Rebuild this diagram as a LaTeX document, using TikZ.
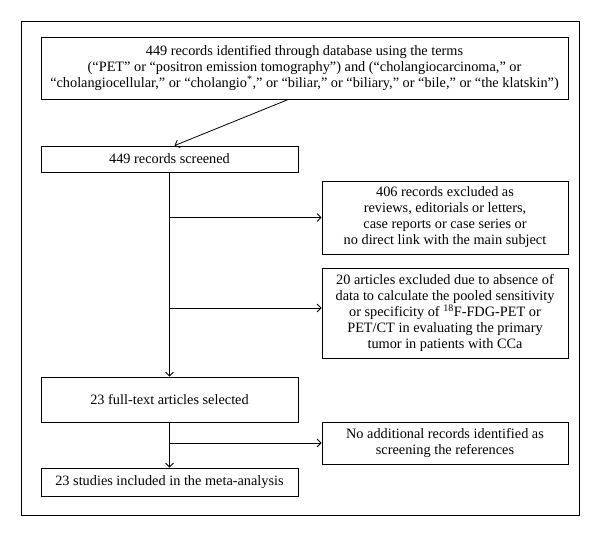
\documentclass[tikz,border=0pt]{standalone}
\usepackage{fontspec}
\setmainfont{Liberation Serif}
\usetikzlibrary{arrows.meta}
\tikzset{
	box/.style={draw, line width=0.8pt, align=center, inner sep=0pt,
		font=\fontsize{14.3}{16}\selectfont},
	freccia/.style={-{Straight Barb[length=4pt,width=8pt]}, line width=0.8pt}
}
\begin{document}
\begin{tikzpicture}[x=1pt, y=-1pt]
	\useasboundingbox (0,0) rectangle (600,536);
	%cornice
	\draw[line width=1pt] (21,21) rectangle (579,515);

	%blocchi a sinistra
	\node[box, minimum width=527pt, minimum height=62pt] (records) at (304.5,68)
		{449 records identified through database using the terms\\
		(“PET” or “positron emission tomography”) and (“cholangiocarcinoma,” or\\
		“cholangiocellular,” or “cholangio\textsuperscript{*},” or “biliar,” or “biliary,” or “bile,” or “the klatskin”)};
	\node[box, minimum width=257pt, minimum height=26pt] (screened) at (169.5,159)
		{449 records screened};
	\node[box, minimum width=257pt, minimum height=45pt] (fulltext) at (169.5,399.5)
		{23 full-text articles selected};
	\node[box, minimum width=257pt, minimum height=28pt] (studi) at (169.5,482)
		{23 studies included in the meta-analysis};

	%blocchi a destra
	\node[box, minimum width=246pt, minimum height=73pt] (esclusi) at (445,217.5)
		{406 records excluded as\\ reviews, editorials or letters,\\
		case reports or case series or\\ no direct link with the main subject};
	\node[box, minimum width=246pt, minimum height=90pt] (articoli) at (445,313)
		{20 articles excluded due to absence of\\
		data to calculate the pooled sensitivity\\
		or specificity of \textsuperscript{18}F-FDG-PET or\\
		PET/CT in evaluating the primary\\ tumor in patients with CCa};
	\node[box, minimum width=246pt, minimum height=42pt] (nessun) at (445,443)
		{No additional records identified as\\ screening the references};

	%frecce
	\draw[freccia] ([xshift=-16pt]records.south) -- ([xshift=5pt]screened.north);
	\draw[freccia] (screened.south) -- (fulltext.north);
	\draw[freccia] (screened.south |- esclusi.west) -- (esclusi.west);
	\draw[freccia] ([yshift=5pt]screened.south |- articoli.west) -- ([yshift=5pt]articoli.west);
	\draw[freccia] (fulltext.south) -- (studi.north);
	\draw[freccia] (fulltext.south |- nessun.west) -- (nessun.west);
\end{tikzpicture}
\end{document}
